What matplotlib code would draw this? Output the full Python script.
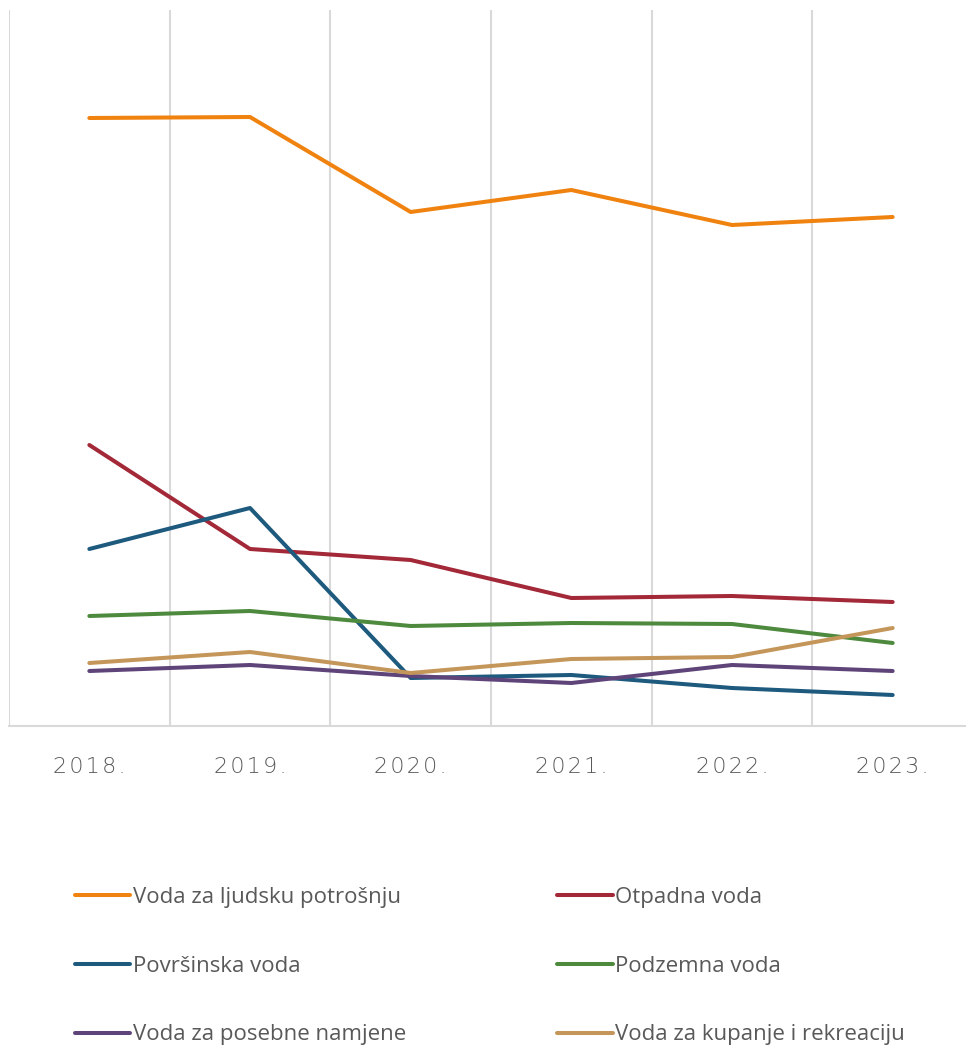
import matplotlib.pyplot as plt

years = ['2018.', '2019.', '2020.', '2021.', '2022.', '2023.']

ljudska = [608, 609, 514, 536, 501, 509]
otpadna = [281, 177, 166, 128, 130, 124]
povrsinska = [177, 218, 48, 51, 38, 31]
podzemna = [110, 115, 100, 103, 102, 83]
posebne = [55, 61, 50, 43, 61, 55]
kupanje = [63, 74, 53, 67, 69, 98]

series = [
    ('Voda za ljudsku potrošnju', ljudska, '#F0820F'),
    ('Otpadna voda', otpadna, '#A32838'),
    ('Površinska voda', povrsinska, '#1D5A7E'),
    ('Podzemna voda', podzemna, '#4E8A3E'),
    ('Voda za posebne namjene', posebne, '#5E4479'),
    ('Voda za kupanje i rekreaciju', kupanje, '#C4965A'),
]

fig = plt.figure(figsize=(9.66, 10.46), dpi=100)
ax = fig.add_axes([9 / 966, 320 / 1046, 964 / 966, 716 / 1046])

x = range(len(years))
lines = []
for name, vals, col in series:
    ln, = ax.plot(x, vals, color=col, lw=2.9, label=name, solid_capstyle='round',
                  solid_joinstyle='round')
    lines.append(ln)

ax.set_xlim(-0.5, len(years) - 0.5)
ax.set_ylim(0, 716)

# category boundaries as vertical grid lines
for b in [i - 0.5 for i in range(len(years) + 1)]:
    ax.axvline(b, color='#d9d9d9', lw=1.5, zorder=0)

for s in ['top', 'right', 'left']:
    ax.spines[s].set_visible(False)
ax.spines['bottom'].set_color('#d9d9d9')
ax.spines['bottom'].set_linewidth(1.5)

ax.set_yticks([])
ax.set_xticks(list(x))
spaced = ['\u200a'.join(y) for y in years]
ax.set_xticklabels(spaced, fontsize=16, color='#595959', family='DejaVu Sans',
                   fontweight='light')
ax.tick_params(axis='x', length=0, pad=22)

# legend fills row by row, like the original
order = [0, 2, 4, 1, 3, 5]
leg = fig.legend([lines[i] for i in order], [series[i][0] for i in order],
                 loc='upper left', bbox_to_anchor=(66 / 966, 1 - 878 / 1046),
                 ncol=2, frameon=False,
                 prop={'family': 'Open Sans', 'size': 16},
                 handlelength=2.5, handletextpad=0.1, columnspacing=6.8,
                 labelspacing=2.15, borderaxespad=0)
for t in leg.get_texts():
    t.set_color('#595959')

fig.savefig('out.png', dpi=100)
